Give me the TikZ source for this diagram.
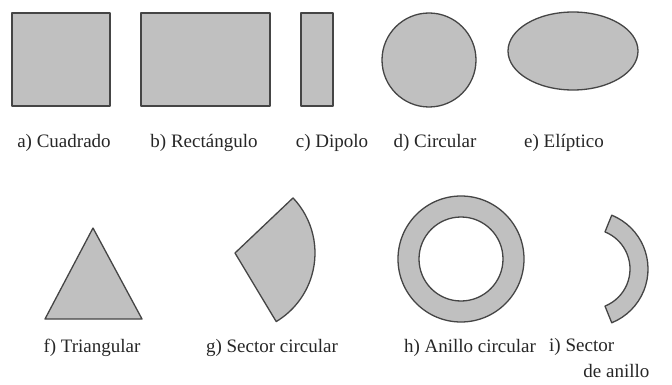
\documentclass[tikz,border=0pt]{standalone}
\usepackage{fontspec}
\setmainfont{Liberation Serif}
\usepackage{tikz}
\usetikzlibrary{shapes.geometric,positioning}

\definecolor{relleno}{HTML}{C0C0C0}
\definecolor{borde}{HTML}{454545}

\begin{document}
\begin{tikzpicture}[x=1pt, y=-1pt,
  forma/.style={draw=borde, fill=relleno, line width=1.3pt, line join=round},
  etiq/.style={font=\rmfamily\fontsize{19}{26}\selectfont, text=black!85, inner sep=0pt, anchor=base}
]
\useasboundingbox (0,0) rectangle (672,385);

% primera fila
\draw[forma] (12,13) rectangle (110,106);
\draw[forma] (141,13) rectangle (270,106);
\draw[forma] (301,13) rectangle (333,106);
\draw[forma] (429,60) circle[radius=47];
\draw[forma] (573,51) ellipse[x radius=65, y radius=39];

\node[etiq] (cua) at (64,148) {a) Cuadrado};
\node[etiq] (rec) at (204,148) {b) Rectángulo};
\node[etiq] (dip) at (332,148) {c) Dipolo};
\node[etiq] (cir) at (435,148) {d) Circular};
\node[etiq] (eli) at (564,148) {e) Elíptico};

% segunda fila
\draw[forma] (93,228) -- (142,319) -- (45,319) -- cycle;
\draw[forma] (235,253) -- ++(-43.5:80) arc[start angle=-43.5, end angle=59, radius=80] -- cycle;
\draw[forma, even odd rule] (461,259) circle[radius=63] (461,259) circle[radius=42];
\draw[forma] (590,269) ++(-68:58) arc[start angle=-68, end angle=68, radius=58]
  -- ++(68:-18) arc[start angle=68, end angle=-68, radius=40] -- cycle;

\node[etiq] (tri) at (92,352) {f) Triangular};
\node[etiq] (sec) at (272,352) {g) Sector circular};
\node[etiq] (ani) at (470,352) {h) Anillo circular};
\node[etiq, anchor=north west, align=left] (sea) at (549,338) {i) Sector\\\hspace{1.8em}de anillo};
\end{tikzpicture}
\end{document}
